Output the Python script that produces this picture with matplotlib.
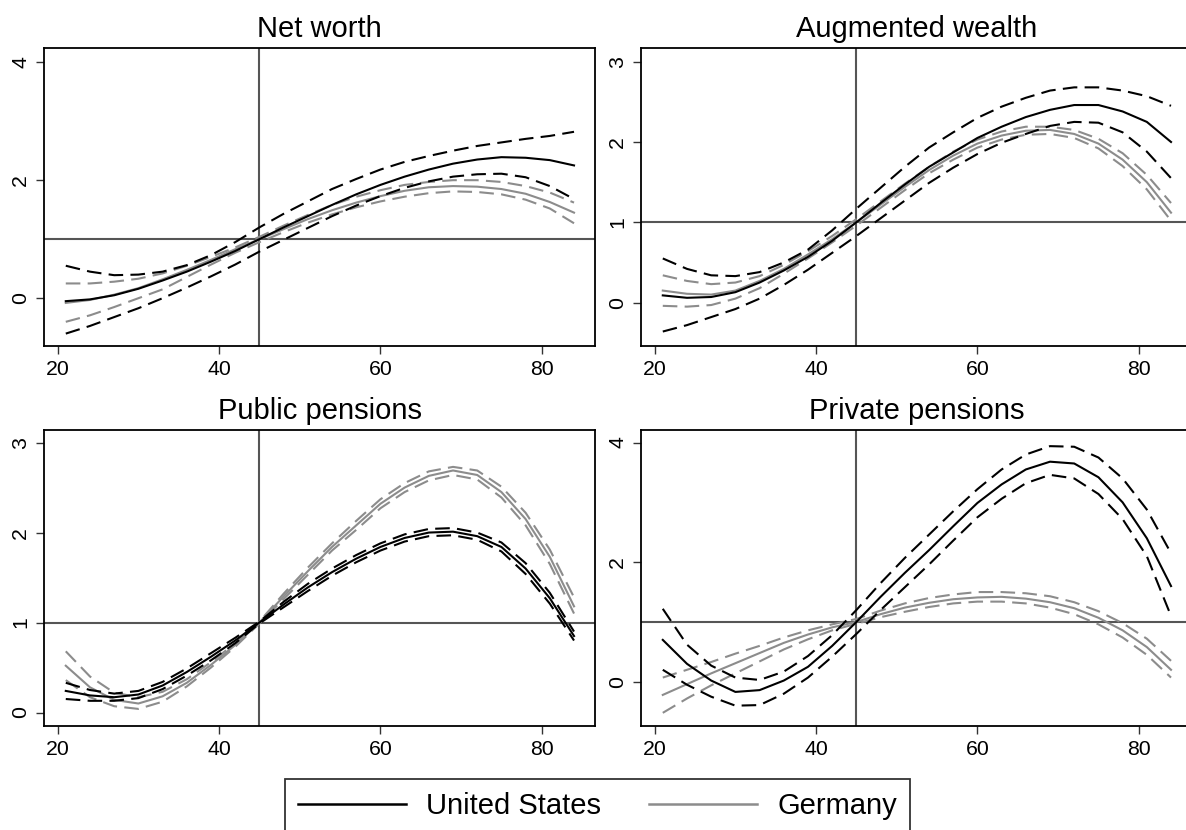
import matplotlib
matplotlib.use("Agg")
import matplotlib.pyplot as plt
from matplotlib.lines import Line2D

plt.rcParams['font.family'] = ['Liberation Sans', 'DejaVu Sans']

ages = [21, 24, 27, 30, 33, 36, 39, 42, 45, 48, 51, 54, 57, 60, 63, 66, 69, 72, 75, 78, 81, 84]

# net worth
nw_us = [-0.05, -0.02, 0.05, 0.16, 0.3, 0.45, 0.62, 0.8, 1.0, 1.2, 1.39, 1.58, 1.76, 1.92, 2.06, 2.18, 2.28, 2.35, 2.39, 2.38, 2.34, 2.25]
nw_us_hi = [0.55, 0.45, 0.39, 0.4, 0.45, 0.56, 0.73, 0.95, 1.2, 1.43, 1.64, 1.85, 2.02, 2.18, 2.31, 2.41, 2.5, 2.58, 2.64, 2.7, 2.75, 2.82]
nw_us_lo = [-0.6, -0.47, -0.32, -0.17, 0.0, 0.18, 0.37, 0.57, 0.79, 0.99, 1.19, 1.39, 1.57, 1.73, 1.87, 1.98, 2.06, 2.1, 2.11, 2.05, 1.9, 1.68]
nw_de = [-0.08, -0.03, 0.06, 0.17, 0.32, 0.48, 0.65, 0.83, 1.0, 1.17, 1.34, 1.49, 1.62, 1.73, 1.82, 1.88, 1.9, 1.89, 1.85, 1.77, 1.63, 1.45]
nw_de_hi = [0.25, 0.25, 0.28, 0.33, 0.42, 0.55, 0.7, 0.86, 1.04, 1.23, 1.41, 1.58, 1.72, 1.83, 1.92, 1.97, 2.0, 2.0, 1.97, 1.9, 1.79, 1.62]
nw_de_lo = [-0.4, -0.29, -0.15, 0.0, 0.15, 0.36, 0.57, 0.77, 0.95, 1.12, 1.28, 1.42, 1.54, 1.64, 1.72, 1.78, 1.81, 1.8, 1.76, 1.67, 1.52, 1.27]

# augmented wealth
aw_us = [0.09, 0.06, 0.07, 0.13, 0.25, 0.4, 0.57, 0.77, 1.0, 1.24, 1.47, 1.69, 1.87, 2.05, 2.19, 2.31, 2.4, 2.46, 2.46, 2.38, 2.25, 2.0]
aw_us_hi = [0.55, 0.42, 0.34, 0.33, 0.38, 0.5, 0.66, 0.9, 1.17, 1.43, 1.69, 1.93, 2.12, 2.3, 2.44, 2.55, 2.64, 2.68, 2.68, 2.64, 2.57, 2.45]
aw_us_lo = [-0.36, -0.28, -0.18, -0.08, 0.05, 0.22, 0.41, 0.62, 0.83, 1.05, 1.27, 1.49, 1.68, 1.85, 1.99, 2.1, 2.2, 2.25, 2.24, 2.12, 1.88, 1.55]
aw_de = [0.15, 0.11, 0.1, 0.15, 0.27, 0.42, 0.6, 0.79, 1.0, 1.22, 1.44, 1.65, 1.83, 1.98, 2.08, 2.14, 2.15, 2.1, 1.98, 1.78, 1.5, 1.12]
aw_de_hi = [0.34, 0.27, 0.23, 0.25, 0.33, 0.47, 0.64, 0.83, 1.04, 1.26, 1.48, 1.69, 1.88, 2.03, 2.13, 2.19, 2.19, 2.15, 2.04, 1.86, 1.59, 1.24]
aw_de_lo = [-0.04, -0.05, -0.03, 0.05, 0.18, 0.36, 0.55, 0.75, 0.96, 1.18, 1.4, 1.61, 1.78, 1.93, 2.03, 2.09, 2.1, 2.05, 1.92, 1.7, 1.41, 1.02]

# public pensions
pp_us = [0.24, 0.19, 0.17, 0.2, 0.3, 0.45, 0.62, 0.8, 1.0, 1.2, 1.39, 1.56, 1.71, 1.84, 1.94, 2.0, 2.01, 1.96, 1.84, 1.6, 1.27, 0.85]
pp_us_hi = [0.33, 0.25, 0.21, 0.24, 0.34, 0.49, 0.66, 0.83, 1.01, 1.23, 1.43, 1.6, 1.75, 1.88, 1.98, 2.04, 2.05, 2.0, 1.89, 1.66, 1.33, 0.9]
pp_us_lo = [0.15, 0.13, 0.13, 0.16, 0.26, 0.41, 0.58, 0.77, 0.99, 1.17, 1.35, 1.52, 1.67, 1.8, 1.9, 1.96, 1.97, 1.92, 1.79, 1.54, 1.21, 0.8]
pp_de = [0.52, 0.28, 0.14, 0.1, 0.18, 0.33, 0.53, 0.75, 1.0, 1.29, 1.57, 1.84, 2.08, 2.32, 2.5, 2.63, 2.69, 2.64, 2.45, 2.15, 1.73, 1.18]
pp_de_hi = [0.68, 0.4, 0.22, 0.17, 0.23, 0.37, 0.56, 0.77, 1.01, 1.32, 1.61, 1.88, 2.13, 2.37, 2.55, 2.68, 2.73, 2.69, 2.51, 2.22, 1.81, 1.28]
pp_de_lo = [0.36, 0.17, 0.07, 0.04, 0.12, 0.29, 0.5, 0.73, 0.99, 1.26, 1.53, 1.8, 2.03, 2.27, 2.45, 2.58, 2.64, 2.59, 2.39, 2.08, 1.65, 1.1]

# private pensions
pv_us = [0.7, 0.3, 0.02, -0.17, -0.14, 0.02, 0.25, 0.6, 1.0, 1.42, 1.82, 2.2, 2.6, 2.99, 3.3, 3.55, 3.68, 3.65, 3.42, 3.0, 2.4, 1.6]
pv_us_hi = [1.22, 0.62, 0.27, 0.07, 0.03, 0.17, 0.43, 0.78, 1.2, 1.65, 2.07, 2.46, 2.85, 3.22, 3.55, 3.8, 3.94, 3.93, 3.75, 3.4, 2.88, 2.15]
pv_us_lo = [0.2, -0.05, -0.25, -0.4, -0.39, -0.2, 0.07, 0.42, 0.8, 1.2, 1.58, 1.96, 2.36, 2.75, 3.06, 3.32, 3.46, 3.4, 3.14, 2.72, 2.1, 1.1]
pv_de = [-0.22, -0.04, 0.14, 0.31, 0.48, 0.65, 0.79, 0.91, 1.0, 1.13, 1.24, 1.32, 1.38, 1.41, 1.42, 1.39, 1.33, 1.23, 1.07, 0.86, 0.58, 0.2]
pv_de_hi = [0.07, 0.2, 0.33, 0.47, 0.6, 0.74, 0.86, 0.96, 1.05, 1.19, 1.31, 1.4, 1.46, 1.5, 1.5, 1.48, 1.43, 1.33, 1.18, 0.98, 0.72, 0.35]
pv_de_lo = [-0.52, -0.28, -0.06, 0.14, 0.34, 0.54, 0.71, 0.86, 0.97, 1.08, 1.17, 1.25, 1.31, 1.34, 1.34, 1.31, 1.24, 1.13, 0.96, 0.74, 0.45, 0.07]

titles = ["Net worth", "Augmented wealth", "Public pensions", "Private pensions"]
xticks = [20, 40, 60, 80]

US_COL = "black"
DE_COL = "#8c8c8c"
REF_COL = "#555555"

W, H = 1186, 830
fig = plt.figure(figsize=(W / 100, H / 100), dpi=100)

# axes boxes in pixels: left, top, bottom
boxes = [(44, 48, 346), (641, 48, 346), (44, 430, 726), (641, 430, 726)]
ylims = [(-0.81, 4.24), (-0.54, 3.17), (-0.15, 3.14), (-0.74, 4.21)]
yticks = [[0, 2, 4], [0, 1, 2, 3], [0, 1, 2, 3], [0, 2, 4]]
panels = [
    (nw_us, nw_us_hi, nw_us_lo, nw_de, nw_de_hi, nw_de_lo),
    (aw_us, aw_us_hi, aw_us_lo, aw_de, aw_de_hi, aw_de_lo),
    (pp_us, pp_us_hi, pp_us_lo, pp_de, pp_de_hi, pp_de_lo),
    (pv_us, pv_us_hi, pv_us_lo, pv_de, pv_de_hi, pv_de_lo),
]

dash = (7, 3.5)
for i, (left, top, bottom) in enumerate(boxes):
    ax = fig.add_axes([left / W, 1 - bottom / H, 551 / W, (bottom - top) / H])
    us, us_hi, us_lo, de, de_hi, de_lo = panels[i]

    ax.axvline(45, color=REF_COL, lw=1.5, zorder=1)
    ax.axhline(1, color=REF_COL, lw=1.5, zorder=1)

    ax.plot(ages, de_hi, color=DE_COL, lw=1.5, dashes=dash)
    ax.plot(ages, de_lo, color=DE_COL, lw=1.5, dashes=dash)
    ax.plot(ages, de, color=DE_COL, lw=1.5)
    ax.plot(ages, us_hi, color=US_COL, lw=1.5, dashes=dash)
    ax.plot(ages, us_lo, color=US_COL, lw=1.5, dashes=dash)
    ax.plot(ages, us, color=US_COL, lw=1.5)

    ax.set_xlim(18.3, 86.6)
    ax.set_ylim(*ylims[i])
    ax.set_xticks(xticks)
    ax.set_yticks(yticks[i])
    ax.tick_params(labelsize=15.3, length=6, width=1, color="#333333", pad=4)
    for lab in ax.get_yticklabels():
        lab.set_rotation(90)
        lab.set_va("center")
    for s in ax.spines.values():
        s.set_linewidth(1.3)
    ax.set_title(titles[i], fontsize=21, pad=8)

handles = [Line2D([], [], color=US_COL, lw=1.8), Line2D([], [], color=DE_COL, lw=1.8)]
leg = fig.legend(handles, ["United States", "Germany"], ncol=2, loc="upper center",
                 bbox_to_anchor=(597.5 / W, 1 - 779 / H), fontsize=21,
                 frameon=True, fancybox=False, edgecolor="black",
                 handlelength=3.7, handletextpad=0.7, columnspacing=1.65,
                 borderpad=0.45, borderaxespad=0)
leg.get_frame().set_linewidth(1.3)

fig.savefig("out.png", dpi=100)
